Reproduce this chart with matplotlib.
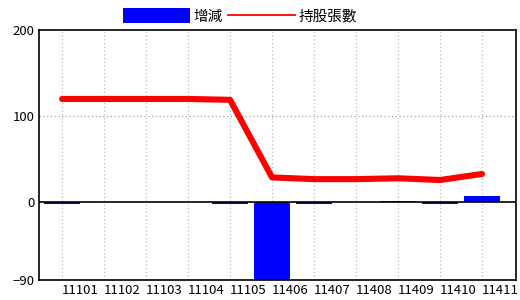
import numpy as np
import matplotlib.pyplot as plt
from matplotlib.patches import Patch
from matplotlib.lines import Line2D

plt.rcParams['font.family'] = ['Noto Sans CJK TC', 'DejaVu Sans']

months = ['11101', '11102', '11103', '11104', '11105', '11406',
          '11407', '11408', '11409', '11410', '11411']
holdings = [120, 120, 120, 120, 119, 29, 27, 27, 28, 26, 33]
change = [-2, 0, 0, 0, -2, -90, -2, 0, 2, -2, 7]

fig = plt.figure(figsize=(5.2, 3.0), dpi=100)
ax = fig.add_axes([39/520, 20/300, 477/520, 250/300])

x = np.arange(len(months))
ax.bar(x, change, width=0.86, color='#0000ff', zorder=2)
ax.plot(x, holdings, color='#ff0000', lw=4.4, solid_capstyle='round',
        solid_joinstyle='round', zorder=3)
ax.axhline(0, color='black', lw=1.2, zorder=4)

ax.set_xlim(-0.55, 10.81)
ax.set_ylim(-90, 200)
ax.set_yticks([200, 100, 0, -90])
ax.set_xticks(x)
ax.set_xticklabels(months, ha='left')
ax.tick_params(length=0, labelsize=9.5, colors='black')
ax.tick_params(axis='y', pad=3)
ax.tick_params(axis='x', pad=3)

for xi in x:
    ax.axvline(xi, color='#a8c4cc', lw=0.9, ls=(0, (1, 2)), zorder=1)
ax.axhline(100, color='#a0a0a0', lw=0.9, ls=(0, (1, 2)), zorder=1)

for s in ax.spines.values():
    s.set_linewidth(1.2)
    s.set_color('black')

handles = [Patch(facecolor='#0000ff', edgecolor='none'),
           Line2D([0], [0], color='#ff0000', lw=1.3)]
fig.legend(handles, ['增減', '持股張數'], loc='center', ncol=2,
           bbox_to_anchor=(240/520, 1 - 16/300), frameon=False,
           fontsize=10.5, handlelength=4.6, handleheight=1.15,
           handletextpad=0.2, columnspacing=0.4, borderpad=0)

fig.savefig('out.png', dpi=100)
